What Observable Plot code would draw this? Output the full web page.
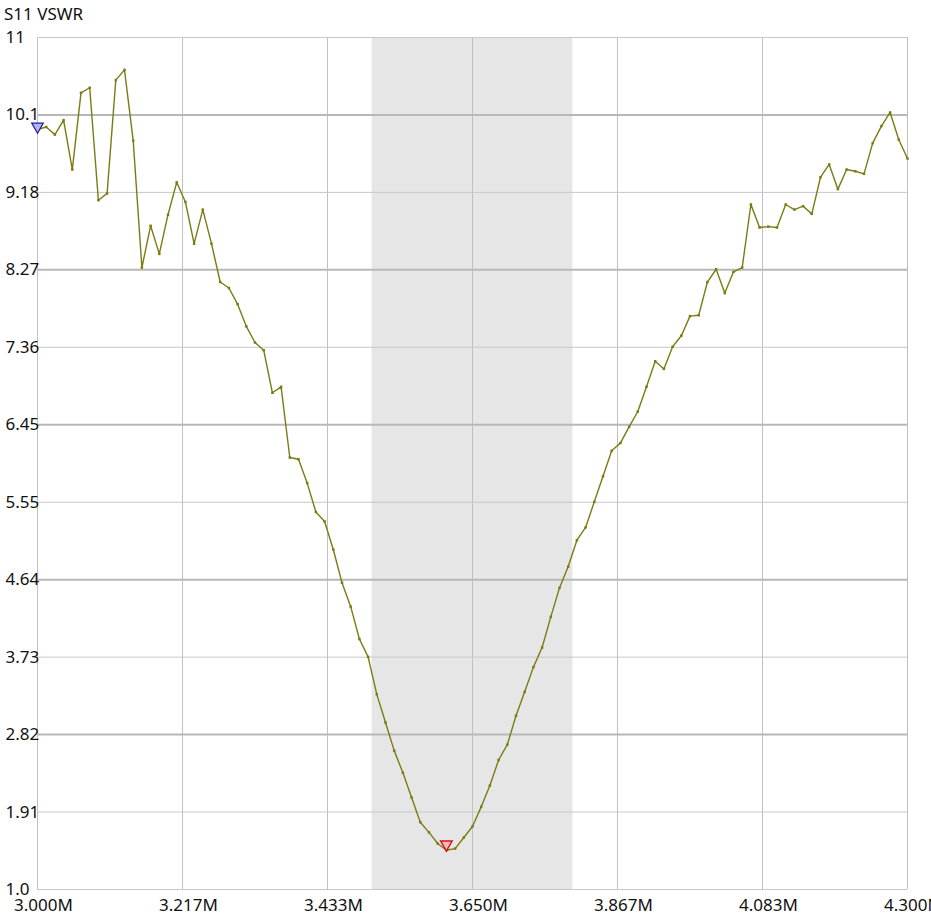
<!DOCTYPE html>
<html>
<head>
<meta charset="utf-8">
<script src="https://cdn.jsdelivr.net/npm/d3@7"></script>
<script src="https://cdn.jsdelivr.net/npm/@observablehq/plot@0.6"></script>
<style>
  html, body { margin: 0; padding: 0; background: #fff; }
  #chart svg { display: block; }
</style>
</head>
<body>
<div id="chart"></div>
<script>
const title = "S11 VSWR";
const startFreq = 3.0;   // MHz
const stepFreq = 0.013;  // MHz per sweep point
const vswr = [
  9.92, 9.95, 9.86, 10.03, 9.45, 10.35, 10.41, 9.09, 9.17, 10.50,
  10.62, 9.79, 8.30, 8.79, 8.46, 8.92, 9.30, 9.07, 8.58, 8.98,
  8.58, 8.13, 8.06, 7.87, 7.61, 7.42, 7.33, 6.83, 6.90, 6.07,
  6.05, 5.77, 5.43, 5.32, 4.99, 4.60, 4.32, 3.94, 3.73, 3.29,
  2.96, 2.63, 2.37, 2.08, 1.79, 1.67, 1.54, 1.46, 1.48, 1.61,
  1.74, 1.97, 2.22, 2.52, 2.70, 3.04, 3.32, 3.61, 3.84, 4.20,
  4.54, 4.79, 5.10, 5.25, 5.55, 5.85, 6.15, 6.24, 6.43, 6.61,
  6.90, 7.20, 7.11, 7.37, 7.50, 7.73, 7.74, 8.13, 8.28, 8.00,
  8.25, 8.30, 9.04, 8.77, 8.78, 8.77, 9.04, 8.98, 9.02, 8.93,
  9.36, 9.51, 9.22, 9.45, 9.43, 9.40, 9.76, 9.96, 10.12, 9.80,
  9.58
];
const xTickValues = [3.0, 3.21667, 3.43333, 3.65, 3.86667, 4.08333, 4.3];
const xTickLabels = ["3.000M", "3.217M", "3.433M", "3.650M", "3.867M", "4.083M", "4.300M"];
const yTickValues = [1.0, 1.909, 2.818, 3.727, 4.636, 5.545, 6.455, 7.364, 8.273, 9.182, 10.091, 11.0];
const yTickLabels = ["1.0", "1.91", "2.82", "3.73", "4.64", "5.55", "6.45", "7.36", "8.27", "9.18", "10.1", "11"];
const band = [{x1: 3.5, x2: 3.8}];
const markerIdx = [0];       // blue reference marker
const minMarkerIdx = [47];   // red minimum marker

const data = vswr.map((v, i) => ({f: startFreq + i * stepFreq, v}));
const markers = markerIdx.map(i => data[i]);
const minMarkers = minMarkerIdx.map(i => data[i]);
const gridY = yTickValues.map((y, i) => ({y, thick: i % 2 === 0 && i > 0 && i < 11}));

const lineColor = "#7b7b14";
const font = "'Noto Sans', 'Open Sans', sans-serif";

const chart = Plot.plot({
  width: 931,
  height: 916,
  marginLeft: 37,
  marginRight: 24,
  marginTop: 37,
  marginBottom: 27,
  style: {fontFamily: font, background: "#fff", color: "#111"},
  x: {domain: [3.0, 4.3]},
  y: {domain: [1, 11]},
  marks: [
    Plot.rectY(band, {x1: "x1", x2: "x2", y1: 1, y2: 11, fill: "#e6e6e6"}),
    Plot.ruleX(xTickValues, {stroke: "#c0c0c0", strokeWidth: 1}),
    Plot.ruleY(gridY.filter(d => !d.thick), {y: "y", stroke: "#c8c8c8", strokeWidth: 1}),
    Plot.ruleY(gridY.filter(d => d.thick), {y: "y", stroke: "#b8b8b8", strokeWidth: 2}),
    Plot.axisY({ticks: yTickValues, tickSize: 0, tickPadding: 0, textAnchor: "start", dx: -32,
      tickFormat: (d) => yTickLabels[yTickValues.indexOf(d)], fontSize: 17, fill: "#111"}),
    Plot.axisX({ticks: xTickValues, tickSize: 0, tickPadding: 9, dx: 6,
      tickFormat: (d) => xTickLabels[xTickValues.indexOf(d)], fontSize: 17, fill: "#111"}),
    Plot.line(data, {x: "f", y: "v", stroke: lineColor, strokeWidth: 1.4}),
    Plot.dot(data, {x: "f", y: "v", symbol: "square", r: 1.4, fill: lineColor, stroke: "none"}),
    Plot.dot(markers, {x: "f", y: "v", symbol: "triangle", r: 4.3, rotate: 180, dy: -3,
      fill: "#b4b4f0", stroke: "#1c1c9c", strokeWidth: 1.2}),
    Plot.dot(minMarkers, {x: "f", y: "v", symbol: "triangle", r: 4.3, rotate: 180, dy: -6,
      fill: "#ffb8b8", stroke: "#d01818", strokeWidth: 1.4})
  ]
});

d3.select(chart).append("text")
  .attr("x", 4).attr("y", 20)
  .attr("text-anchor", "start")
  .attr("font-family", font)
  .attr("font-size", 17)
  .attr("fill", "#111")
  .text(title);

document.getElementById("chart").appendChild(chart);
</script>
</body>
</html>
